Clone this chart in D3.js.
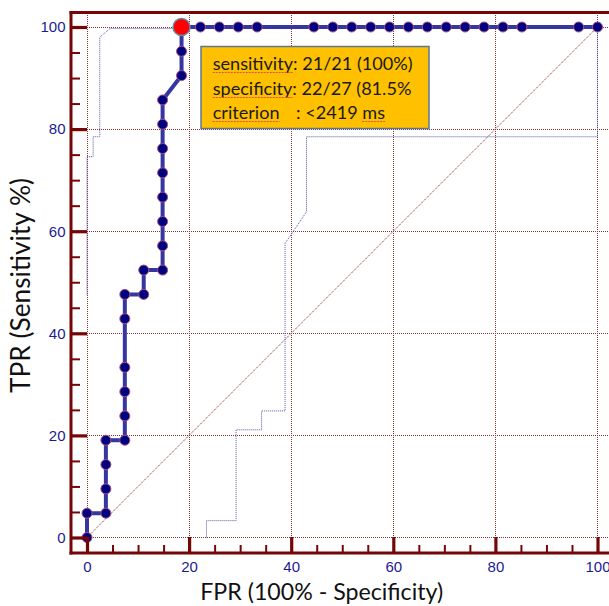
<!DOCTYPE html>
<html>
<head>
<meta charset="utf-8">
<script src="https://cdn.jsdelivr.net/npm/d3@7"></script>
<style>
body { margin: 0; background: #fff; }
</style>
</head>
<body>
<script>
// ROC points (FPR %, TPR %)
const fpr = [0, 0, 3.70, 3.70, 3.70, 3.70, 7.41, 7.41, 7.41, 7.41, 7.41, 7.41, 11.11, 11.11,
             14.81, 14.81, 14.81, 14.81, 14.81, 14.81, 14.81, 14.81, 18.52, 18.52, 18.52,
             22.22, 25.93, 29.63, 33.33, 44.44, 48.15, 51.85, 55.56, 59.26, 62.96, 66.67,
             70.37, 74.07, 77.78, 81.48, 85.19, 96.30, 100];
const tpr = [0, 4.76, 4.76, 9.52, 14.29, 19.05, 19.05, 23.81, 28.57, 33.33, 42.86, 47.62, 47.62, 52.38,
             52.38, 57.14, 61.90, 66.67, 71.43, 76.19, 80.95, 85.71, 90.48, 95.24, 100,
             100, 100, 100, 100, 100, 100, 100, 100, 100, 100, 100,
             100, 100, 100, 100, 100, 100, 100];
const cutoffPoint = [18.52, 100];

// confidence bounds
const upperFpr = [0, 0, 1.2, 1.2, 2.5, 2.5, 4.5, 100];
const upperTpr = [47.6, 74.6, 74.6, 78.5, 78.5, 98.0, 99.7, 99.7];
const lowerFpr = [23.4, 23.4, 29.2, 29.2, 34.2, 34.2, 38.8, 38.8, 43.0, 43.0, 100, 100];
const lowerTpr = [0, 3.3, 3.3, 21.1, 21.1, 24.8, 24.8, 57.6, 63.8, 78.5, 78.5, 100];

const majorTicks = [0, 20, 40, 60, 80, 100];
const minorTicks = [5, 10, 15, 25, 30, 35, 45, 50, 55, 65, 70, 75, 85, 90, 95];
const boxLines = ["sensitivity: 21/21 (100%)", "specificity: 22/27 (81.5%"];
const criterionLabel = "criterion";
const criterionValue = ": <2419 ms";

const width = 609,
      height = 606;
const frameLeft = 71, frameTop = 12.5, frameBottom = 553;
const axisColor = "#760606",
      gridColor = "#8a3434",
      labelColor = "#1c1c90";

function fitText(sel, target) {
    let w = sel.node().getComputedTextLength();
    let fs = parseFloat(sel.attr("font-size"));
    sel.attr("font-size", fs * target / w);
}

function createRoc() {
    let svg = d3.select("body")
        .append("svg")
        .attr("width", width)
        .attr("height", height);

    let x = d3.scaleLinear().domain([0, 100]).range([87, 597.5]);
    let y = d3.scaleLinear().domain([0, 100]).range([537.5, 27]);

    // grid
    svg.selectAll(".vgrid")
        .data(majorTicks).enter()
        .append("line")
        .attr("x1", d => x(d)).attr("x2", d => x(d))
        .attr("y1", frameTop).attr("y2", frameBottom)
        .attr("stroke", gridColor).attr("stroke-width", 1)
        .attr("shape-rendering", "crispEdges")
        .attr("stroke-dasharray", "1,1");
    svg.selectAll(".hgrid")
        .data(majorTicks).enter()
        .append("line")
        .attr("x1", frameLeft).attr("x2", width)
        .attr("y1", d => y(d)).attr("y2", d => y(d))
        .attr("stroke", gridColor).attr("stroke-width", 1)
        .attr("shape-rendering", "crispEdges")
        .attr("stroke-dasharray", "1,1");

    // diagonal
    svg.append("line")
        .attr("x1", x(0)).attr("y1", y(0))
        .attr("x2", x(100)).attr("y2", y(100))
        .attr("stroke", gridColor).attr("stroke-width", 1)
        .attr("stroke-dasharray", "1.2,1");

    // confidence bounds
    let line = d3.line().x(d => x(d[0])).y(d => y(d[1]));
    [[upperFpr, upperTpr], [lowerFpr, lowerTpr]].forEach(function (b) {
        svg.append("path")
            .attr("d", line(d3.zip(b[0], b[1])))
            .attr("fill", "none")
            .attr("stroke", "#5656a8")
            .attr("stroke-width", 1)
            .attr("stroke-dasharray", "1,1");
    });

    // info box
    svg.append("rect")
        .attr("x", 201).attr("y", 46.5)
        .attr("width", 228).attr("height", 82)
        .attr("fill", "#ffc000")
        .attr("stroke", "#5a7896")
        .attr("stroke-width", 1.5);

    let t1 = svg.append("text")
        .attr("x", 212.7).attr("y", 69.5)
        .attr("font-family", "Lato, 'Open Sans', sans-serif")
        .attr("font-size", 17)
        .attr("fill", "#1a1a1a")
        .text(boxLines[0]);
    fitText(t1, 200);
    let fs = t1.attr("font-size");
    let t2 = svg.append("text")
        .attr("x", 212.7).attr("y", 94.5)
        .attr("font-family", "Lato, 'Open Sans', sans-serif")
        .attr("font-size", fs)
        .attr("fill", "#1a1a1a")
        .text(boxLines[1]);
    let t3 = svg.append("text")
        .attr("x", 212.7).attr("y", 118.5)
        .attr("font-family", "Lato, 'Open Sans', sans-serif")
        .attr("font-size", fs)
        .attr("fill", "#1a1a1a")
        .text(criterionLabel);
    let t4 = svg.append("text")
        .attr("x", 296).attr("y", 118.5)
        .attr("font-family", "Lato, 'Open Sans', sans-serif")
        .attr("font-size", fs)
        .attr("fill", "#1a1a1a")
        .text(criterionValue);

    // spell-check style underlines
    let marks = [
        [212.7, t1.node().getSubStringLength(0, 11), 72.5],
        [212.7, t2.node().getSubStringLength(0, 11), 97.5],
        [212.7, t3.node().getComputedTextLength(), 121.5],
        [296 + t4.node().getSubStringLength(0, 8), t4.node().getSubStringLength(8, 2), 121.5]
    ];
    marks.forEach(function (m) {
        svg.append("line")
            .attr("x1", m[0]).attr("x2", m[0] + m[1])
            .attr("y1", m[2]).attr("y2", m[2])
            .attr("stroke", "#e0504a")
            .attr("stroke-width", 1)
            .attr("stroke-dasharray", "2,1");
    });

    // ROC curve
    let pts = d3.zip(fpr, tpr);
    svg.append("path")
        .attr("d", line(pts))
        .attr("fill", "none")
        .attr("stroke", "#3636a0")
        .attr("stroke-width", 4)
        .attr("stroke-linejoin", "round");

    svg.selectAll(".pt")
        .data(pts).enter()
        .append("circle")
        .attr("class", "pt")
        .attr("cx", d => x(d[0]))
        .attr("cy", d => y(d[1]))
        .attr("r", 5)
        .attr("fill", "#000080")
        .attr("stroke", "#a8507e")
        .attr("stroke-width", 1);

    svg.append("circle")
        .attr("cx", x(cutoffPoint[0]))
        .attr("cy", y(cutoffPoint[1]))
        .attr("r", 8.5)
        .attr("fill", "#ff0000")
        .attr("stroke", "#6a88aa")
        .attr("stroke-width", 1.5);

    // ticks
    let leftMajor = svg.append("g")
        .attr("transform", "translate(" + frameLeft + ",0)")
        .call(d3.axisRight(y).tickValues(majorTicks).tickSize(16).tickSizeOuter(0).tickFormat(""));
    let leftMinor = svg.append("g")
        .attr("transform", "translate(" + frameLeft + ",0)")
        .call(d3.axisRight(y).tickValues(minorTicks).tickSize(9).tickSizeOuter(0).tickFormat(""));
    let bottomMajor = svg.append("g")
        .attr("transform", "translate(0," + frameBottom + ")")
        .call(d3.axisTop(x).tickValues(majorTicks).tickSize(16).tickSizeOuter(0).tickFormat(""));
    let bottomMinor = svg.append("g")
        .attr("transform", "translate(0," + frameBottom + ")")
        .call(d3.axisTop(x).tickValues(minorTicks).tickSize(8).tickSizeOuter(0).tickFormat(""));
    [leftMajor, leftMinor, bottomMajor, bottomMinor].forEach(function (g, i) {
        g.select(".domain").remove();
        g.selectAll("line")
            .attr("stroke", axisColor)
            .attr("stroke-width", i % 2 === 0 ? 3.2 : 2);
    });

    // frame
    svg.append("line")
        .attr("x1", frameLeft - 1.5).attr("x2", width)
        .attr("y1", frameTop).attr("y2", frameTop)
        .attr("stroke", axisColor).attr("stroke-width", 3);
    svg.append("line")
        .attr("x1", frameLeft).attr("x2", frameLeft)
        .attr("y1", frameTop - 1.5).attr("y2", frameBottom + 1.5)
        .attr("stroke", axisColor).attr("stroke-width", 3);
    svg.append("line")
        .attr("x1", frameLeft - 1.5).attr("x2", width)
        .attr("y1", frameBottom).attr("y2", frameBottom)
        .attr("stroke", axisColor).attr("stroke-width", 3);

    // tick labels
    let yLab = svg.append("g")
        .attr("transform", "translate(" + frameLeft + ",0)")
        .call(d3.axisLeft(y).tickValues(majorTicks).tickSize(0).tickPadding(5.5));
    let xLab = svg.append("g")
        .attr("transform", "translate(0," + frameBottom + ")")
        .call(d3.axisBottom(x).tickValues(majorTicks).tickSize(0).tickPadding(8));
    [yLab, xLab].forEach(function (g) {
        g.select(".domain").remove();
        g.selectAll("text")
            .attr("fill", labelColor)
            .attr("font-family", "'Liberation Sans', Arial, sans-serif")
            .attr("font-size", 15);
    });

    // axis titles
    let xt = svg.append("text")
        .attr("text-anchor", "middle")
        .attr("x", 321.7).attr("y", 600)
        .attr("font-family", "Lato, 'Open Sans', sans-serif")
        .attr("font-size", 22)
        .attr("fill", "#111")
        .text("FPR (100% - Specificity)");
    fitText(xt, 243);

    let yt = svg.append("text")
        .attr("text-anchor", "middle")
        .attr("transform", "translate(30,285.5)rotate(-90)")
        .attr("font-family", "Lato, 'Open Sans', sans-serif")
        .attr("font-size", 22)
        .attr("fill", "#111")
        .text("TPR (Sensitivity %)");
    fitText(yt, 215);
}

window.onload = createRoc;
</script>
</body>
</html>
